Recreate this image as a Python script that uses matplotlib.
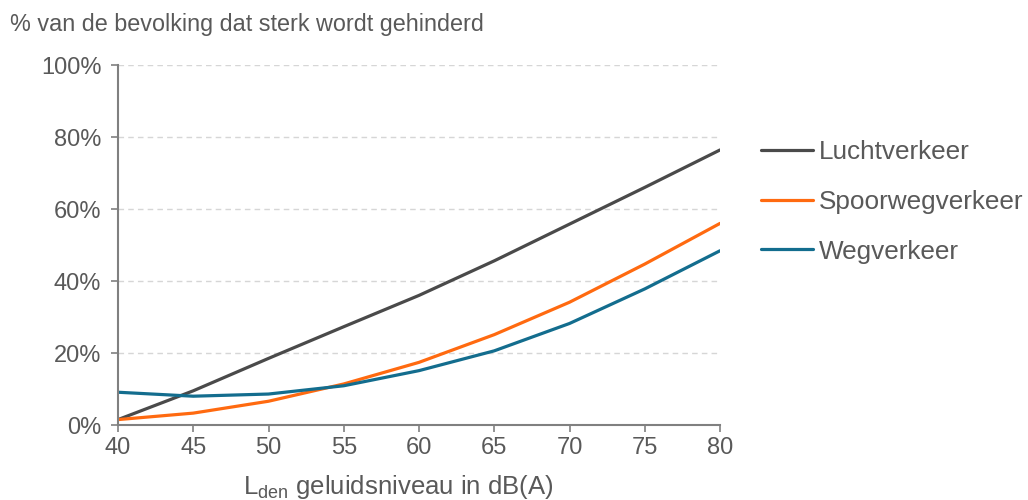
import matplotlib.pyplot as plt
from matplotlib.ticker import PercentFormatter

plt.rcParams['font.family'] = ['Liberation Sans', 'DejaVu Sans']
plt.rcParams['mathtext.fontset'] = 'custom'
plt.rcParams['mathtext.rm'] = 'Liberation Sans'

# Data
geluid = [40, 45, 50, 55, 60, 65, 70, 75, 80]
lucht = [1.5, 9.5, 18.5, 27.3, 36.0, 45.6, 55.8, 66.0, 76.4]
spoor = [1.5, 3.3, 6.6, 11.4, 17.4, 25.1, 34.1, 44.7, 56.0]
weg = [9.1, 8.0, 8.6, 10.9, 15.1, 20.6, 28.2, 37.8, 48.4]
labels = ["Luchtverkeer", "Spoorwegverkeer", "Wegverkeer"]
colors = ["#4a4a4a", "#ff6a10", "#136d8e"]
txt = "#595959"

fig = plt.figure(figsize=(10.28, 5), dpi=100)
ax = fig.add_axes([118 / 1028, 75 / 500, 602 / 1028, 360 / 500])

for serie, lab, c in zip([lucht, spoor, weg], labels, colors):
    ax.plot(geluid, serie, color=c, linewidth=2.3, label=lab,
            solid_capstyle='round')

ax.set_xlim(40, 80)
ax.set_ylim(0, 100)
ax.set_xticks(geluid)
ax.set_yticks(range(0, 101, 20))
ax.yaxis.set_major_formatter(PercentFormatter(decimals=0))
ax.grid(axis='y', linestyle=(0, (4, 3)), color='#d6d6d6', linewidth=1)
ax.set_axisbelow(True)

for s in ['top', 'right']:
    ax.spines[s].set_visible(False)
for s in ['left', 'bottom']:
    ax.spines[s].set_color('#808080')
    ax.spines[s].set_linewidth(1.5)
ax.tick_params(colors='#808080', labelcolor=txt, labelsize=17,
               length=5, width=1.2, direction='out')
ax.tick_params(axis='y', pad=7)
ax.tick_params(axis='x', pad=4)

# as-label, iets links van het midden zoals in het origineel
fig.text(398 / 1028, 1 - 487 / 500,
         r"$\mathregular{L_{den}}$ geluidsniveau in dB(A)",
         fontsize=18.5, color=txt, ha='center', va='center')
fig.text(0.01, 1 - 25 / 500, "% van de bevolking dat sterk wordt gehinderd",
         fontsize=16.8, color=txt, va='center')

leg = ax.legend(loc='center left', bbox_to_anchor=(1.05, (425 - 202) / 360),
                frameon=False, fontsize=18.8, handlelength=2.0,
                handletextpad=0.25, labelspacing=0.98, borderaxespad=0)
for t in leg.get_texts():
    t.set_color(txt)

fig.savefig("out.png", dpi=100)
